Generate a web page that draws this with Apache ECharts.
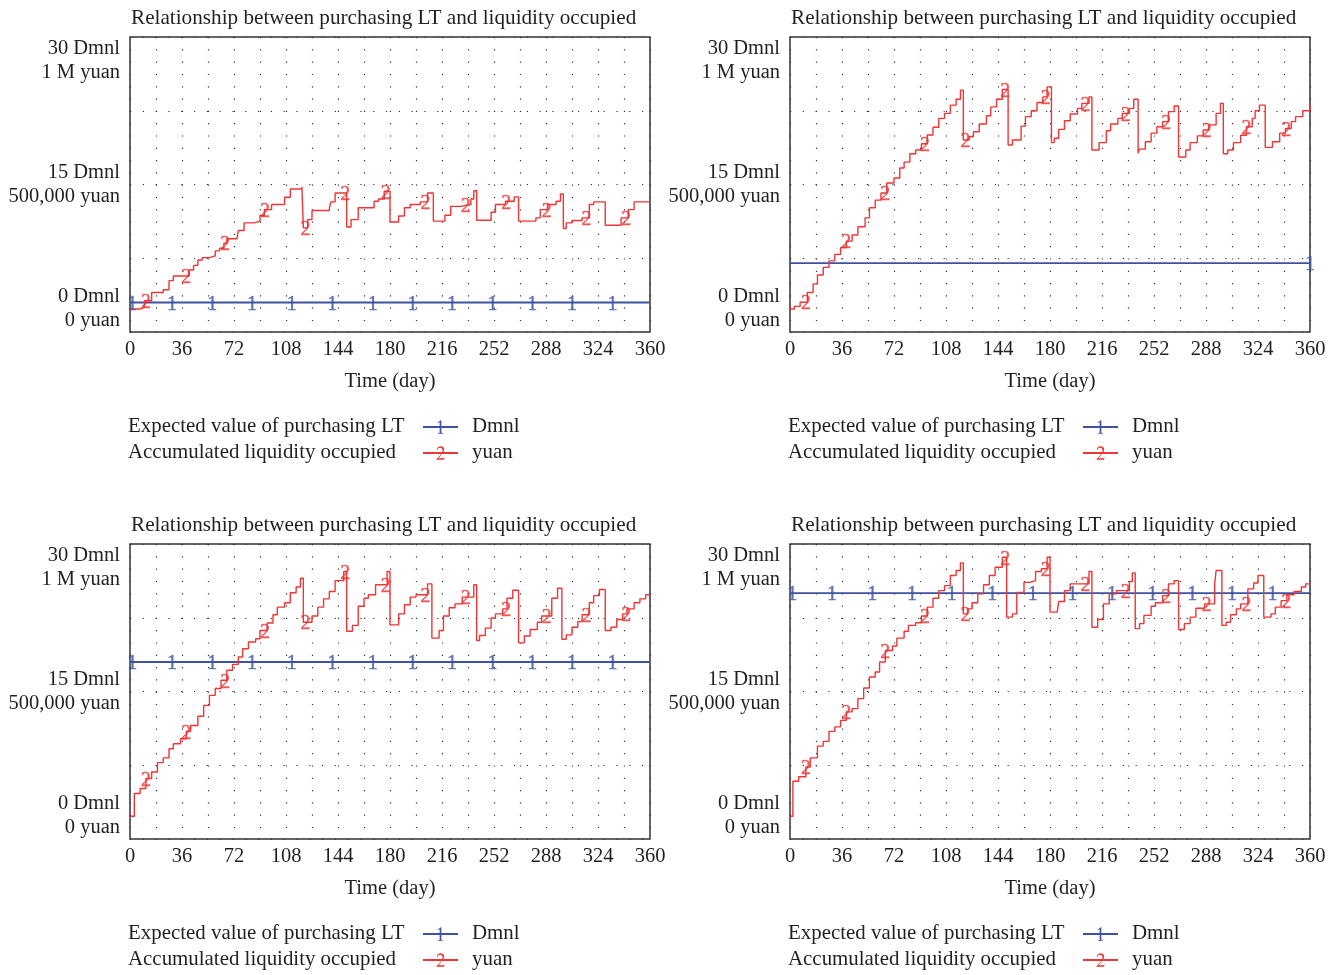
<!DOCTYPE html>
<html><head><meta charset="utf-8">
<script src="https://cdn.jsdelivr.net/npm/echarts@6/dist/echarts.min.js"></script>
<style>html,body{margin:0;padding:0;background:#fff}#c{width:1341px;height:975px}</style>
</head><body><div id="c"></div>
<script>
// ---------------- data ----------------
const TITLE = 'Relationship between purchasing LT and liquidity occupied';
const SERIES_NAMES = ['Expected value of purchasing LT', 'Accumulated liquidity occupied'];
const UNITS = ['Dmnl', 'yuan'];
const X_AXIS_NAME = 'Time (day)';
const X_LABEL_STEP = 36;
const Y_LABELS = { 0: ['0 Dmnl', '0 yuan'], 15: ['15 Dmnl', '500,000 yuan'], 30: ['30 Dmnl', '1 M yuan'] };

// Expected value of purchasing LT (Dmnl), one level per panel
const EXPECTED_LT = [3, 7, 18, 25];

// Accumulated liquidity occupied (thousand yuan), level from each day onward
const P1_DAYS = [0,7,10,15,23,27,30,41,44,47,50,55,59,62,65,67,74,75,79,86,90,93,98,107,111,119,120,123,126,138,139,142,150,153,158,169,172,176,180,186,190,194,201,206,210,218,222,229,236,238,240,250,253,260,266,269,281,284,289,295,298,300,302,306,313,318,321,329,340,345,349,360];
const P1_LIQ  = [78,84,106,134,143,174,190,210,226,244,252,258,275,284,301,316,322,344,370,376,395,415,432,457,485,492,353,381,412,419,441,471,356,381,421,443,451,477,373,393,421,432,441,471,376,396,426,432,451,479,379,406,432,443,458,376,387,415,432,443,468,351,370,378,387,432,441,362,387,415,441,441];

const P2_DAYS = [0,3,7,12,16,19,23,27,31,35,39,43,47,52,55,59,63,67,72,76,79,83,87,91,95,99,103,107,111,115,118,120,124,127,131,136,139,143,147,151,154,160,163,167,171,175,178,181,183,186,190,194,199,202,207,209,214,219,222,227,230,235,238,241,242,246,250,254,258,262,266,269,274,277,282,286,290,295,298,300,303,307,312,316,320,322,325,329,334,339,343,347,350,355,360];
const P2_LIQ  = [78,87,101,134,163,193,219,241,263,286,308,329,357,387,421,447,471,505,522,556,576,604,617,638,668,694,724,741,769,789,820,651,662,679,705,733,763,789,822,634,651,698,730,750,778,797,831,642,657,687,716,739,758,775,797,617,642,682,705,724,741,758,789,606,620,645,674,696,713,747,766,593,617,642,665,685,702,741,775,604,617,642,667,696,724,750,769,626,645,674,690,713,730,750,769];

const P3_DAYS = [0,3,7,11,15,19,23,27,30,35,39,42,47,51,55,59,63,67,71,75,78,82,87,90,95,99,102,107,111,115,118,120,126,130,134,138,142,148,150,154,158,162,165,170,178,180,186,190,194,198,206,209,214,217,221,225,230,238,240,242,246,250,253,258,261,265,269,273,277,282,285,292,296,299,302,306,310,313,318,321,325,329,333,337,341,344,349,353,357,360];
const P3_LIQ  = [77,154,171,205,227,259,275,306,323,340,365,385,416,453,487,510,538,572,592,617,645,668,679,707,732,760,786,801,835,854,884,735,756,786,814,839,876,907,704,724,789,816,828,862,907,726,763,794,820,828,865,681,707,756,784,797,820,862,673,690,715,749,763,780,816,843,665,688,710,735,756,816,850,677,692,718,737,760,801,825,846,707,718,744,763,780,801,814,828,828];

const P4_DAYS = [0,2,6,11,14,19,23,27,31,35,39,43,47,51,55,59,62,66,71,74,79,82,87,91,95,99,103,107,111,115,118,120,123,126,130,134,138,142,147,150,154,157,162,166,170,174,178,180,185,186,190,194,207,209,213,217,221,226,235,237,239,242,245,250,253,258,262,266,269,273,277,281,287,294,295,299,302,305,309,312,317,321,324,328,333,336,340,344,349,354,357,360];
const P4_LIQ  = [77,196,211,244,275,315,331,365,380,402,431,442,476,512,549,566,600,639,654,681,704,724,733,756,786,816,842,859,893,910,936,763,780,801,831,862,893,921,955,752,763,836,870,876,907,916,955,769,775,805,842,865,907,718,744,797,831,842,873,902,713,730,758,789,801,825,865,876,710,730,752,782,797,865,910,724,735,760,780,797,848,868,893,752,763,786,808,828,839,854,865,865];

// days at which the line identifiers "1" / "2" are printed on the curves
const BLUE_MARKER_DAYS = [1.5,29,57,84.5,112,140,168,195.5,223,251,278.5,306,334];
const BLUE_MARKER_DAYS_P2 = [360];
const RED_MARKER_DAYS = [11,39,66,93.5,121.5,149,177,204.5,232.5,260.5,288.5,316,343.5];

// ---------------- build ----------------
const PANELS = [
  { days: P1_DAYS, liq: P1_LIQ, blueMarks: BLUE_MARKER_DAYS },
  { days: P2_DAYS, liq: P2_LIQ, blueMarks: BLUE_MARKER_DAYS_P2 },
  { days: P3_DAYS, liq: P3_LIQ, blueMarks: BLUE_MARKER_DAYS },
  { days: P4_DAYS, liq: P4_LIQ, blueMarks: BLUE_MARKER_DAYS }
];
const FONT = "'Liberation Serif','Times New Roman',serif";
const TEXT = '#231f20';
const BLUE = '#3d52a3';
const RED = '#ef3535';
const GLYPH1 = 'path://M0 0M16 16M7.2 3.4L5.2 4.3L5 3.9L8.3 1.5L8.8 1.5L8.8 13.2Q8.8 13.9 10.6 14L10.6 14.5L5.5 14.5L5.5 14Q7.2 13.9 7.2 13.2Z';
const GLYPH2 = 'path://M0 0M16 16M4 14.5L4 14.1L8.1 9.7Q9.9 7.7 9.9 5.7Q9.9 3.1 7.5 3.1Q5.6 3.1 4.9 5.4L4.4 5.3Q5 1.5 8.1 1.5Q11.5 1.5 11.5 5Q11.5 7.2 8.8 9.6L6.2 12.9L10.4 12.9Q11.2 12.9 11.6 12L12 12.1L11.2 14.5Z';

function levelAt(days, vals, d) {
  let v = vals[0];
  for (let i = 0; i < days.length; i++) { if (days[i] <= d) v = vals[i]; else break; }
  return v;
}

const grids = [], xAxes = [], yAxes = [], series = [], titles = [], legends = [];
PANELS.forEach((p, i) => {
  const c = i % 2, r = Math.floor(i / 2);
  const gx = 130 + 660 * c, gy = 37 + 507 * r;
  grids.push({ left: gx, top: gy, width: 520, height: 295, show: true, borderColor: '#333', borderWidth: 1.5,
    containLabel: false, outerBoundsMode: 'none' });
  titles.push({ text: TITLE, left: 131 + 660 * c, top: 8 + 507 * r, padding: 0,
    textStyle: { fontSize: 21.2, fontWeight: 'normal', fontFamily: FONT, color: TEXT } });
  xAxes.push({
    gridIndex: i, type: 'value', min: 0, max: 360, interval: 18,
    axisLine: { show: false }, axisTick: { show: false },
    axisLabel: { margin: 7, fontSize: 20.5, fontFamily: FONT, color: TEXT,
      formatter: v => (v % X_LABEL_STEP === 0 ? String(v) : '') },
    splitLine: { show: true, lineStyle: { color: '#333', width: 1.2, type: [1.2, 11.1] } },
    name: X_AXIS_NAME, nameLocation: 'middle', nameGap: 39,
    nameTextStyle: { fontSize: 20.5, fontFamily: FONT, color: TEXT }
  });
  yAxes.push({
    gridIndex: i, type: 'value', min: 0, max: 30, interval: 7.5,
    axisLine: { show: false }, axisTick: { show: false },
    axisLabel: { margin: 10, fontSize: 20.5, lineHeight: 23.5, fontFamily: FONT, color: TEXT,
      formatter: v => {
        const l = Y_LABELS[v];
        if (!l) return '';
        const t = l.join('\n');
        if (v === 30) return '\n\n' + t;
        if (v === 0) return t + '\n\n';
        return t;
      } },
    splitLine: { show: true, lineStyle: { color: '#333', width: 1.2, type: [1.2, 11.6] } }
  });
  yAxes.push({ gridIndex: i, type: 'value', min: 0, max: 1000000, show: false, splitLine: { show: false } });

  const lvl = EXPECTED_LT[i];
  series.push({
    name: SERIES_NAMES[0], type: 'line', xAxisIndex: i, yAxisIndex: 2 * i,
    data: [[0, lvl], [360, lvl]], symbol: GLYPH1, showSymbol: false,
    lineStyle: { color: BLUE, width: 1.8 }, itemStyle: { color: BLUE, borderWidth: 0 },
    silent: true, z: 2
  });
  series.push({
    name: SERIES_NAMES[1], type: 'line', step: 'end', xAxisIndex: i, yAxisIndex: 2 * i + 1,
    data: p.days.map((d, k) => [d, p.liq[k] * 1000]), symbol: GLYPH2, showSymbol: false,
    lineStyle: { color: RED, width: 1.4 }, itemStyle: { color: RED, borderWidth: 0 },
    silent: true, z: 3
  });
  series.push({
    name: 'id1-' + i, type: 'scatter', xAxisIndex: i, yAxisIndex: 2 * i,
    data: p.blueMarks.map(d => [d, lvl]), symbolSize: 1, itemStyle: { color: 'rgba(0,0,0,0)' },
    label: { show: true, position: 'inside', formatter: '1', color: BLUE, fontSize: 20, fontFamily: FONT,
      offset: [0, 2], textBorderColor: BLUE, textBorderWidth: 0.4 },
    silent: true, z: 4
  });
  series.push({
    name: 'id2-' + i, type: 'scatter', xAxisIndex: i, yAxisIndex: 2 * i + 1,
    data: RED_MARKER_DAYS.map(d => [d, levelAt(p.days, p.liq, d) * 1000]), symbolSize: 1, itemStyle: { color: 'rgba(0,0,0,0)' },
    label: { show: true, position: 'inside', formatter: '2', color: RED, fontSize: 20, fontFamily: FONT,
      offset: [0, 2], textBorderColor: RED, textBorderWidth: 0.4 },
    silent: true, z: 5
  });

  const ly = 414 + 507 * r;
  legends.push({
    orient: 'vertical', left: 128 + 660 * c, top: ly, padding: 0, itemGap: 0,
    itemWidth: 35, itemHeight: 21, align: 'right', selectedMode: false,
    data: SERIES_NAMES,
    formatter: n => '{n|' + n + '}',
    textStyle: { fontSize: 20.9, fontFamily: FONT, color: TEXT, lineHeight: 26,
      rich: { n: { width: 290, align: 'left', fontSize: 20.9, fontFamily: FONT, color: TEXT, lineHeight: 26 } } }
  });
  legends.push({
    orient: 'vertical', left: 467 + 660 * c, top: ly, padding: 0, itemGap: 0,
    itemWidth: 0, itemHeight: 21, icon: 'none', align: 'left', selectedMode: false,
    data: SERIES_NAMES,
    formatter: n => UNITS[SERIES_NAMES.indexOf(n)],
    textStyle: { fontSize: 20.9, fontFamily: FONT, color: TEXT, lineHeight: 26 }
  });
});

const chart = echarts.init(document.getElementById('c'), null, { renderer: 'canvas' });
chart.setOption({
  backgroundColor: '#fff', animation: false,
  title: titles, grid: grids, xAxis: xAxes, yAxis: yAxes, legend: legends, series: series
});
</script></body></html>
